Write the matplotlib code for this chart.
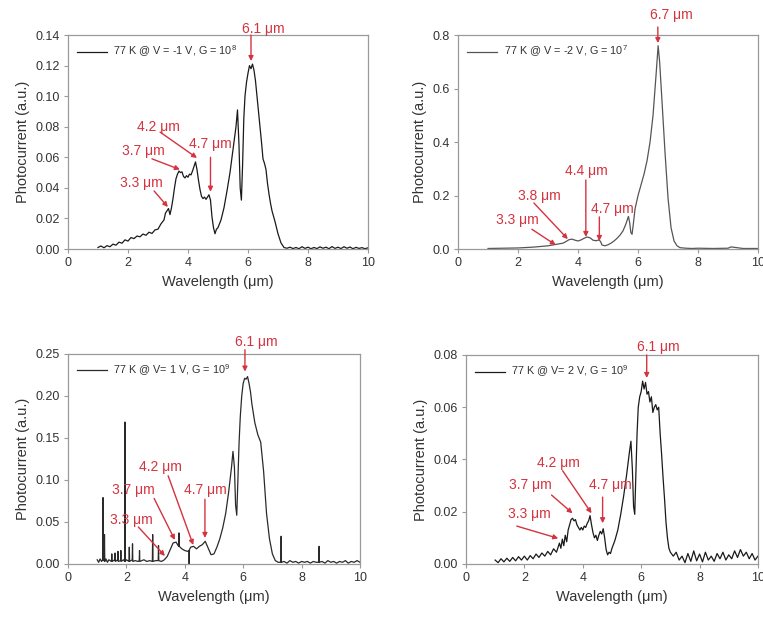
import numpy as np
import matplotlib
matplotlib.use('Agg')
import matplotlib.pyplot as plt

plt.rcParams['font.family'] = ['Liberation Sans', 'DejaVu Sans']
plt.rcParams['mathtext.fontset'] = 'custom'
plt.rcParams['mathtext.rm'] = 'Liberation Sans'
plt.rcParams['mathtext.it'] = 'Liberation Sans'

RED = '#d4333f'
TEXT = '#333333'
SPINE = '#9a9a9a'

# ---- panel (a): 77 K @ V = -1 V, G = 10^8 ----
wl_a = [1.0, 1.1, 1.2, 1.3, 1.4, 1.5, 1.6, 1.7, 1.8, 1.9, 2.0, 2.1, 2.2, 2.3, 2.4, 2.5,
        2.6, 2.7, 2.8, 2.9, 3.0, 3.1, 3.2, 3.25, 3.3, 3.35, 3.4, 3.45, 3.5, 3.55, 3.6,
        3.65, 3.7, 3.75, 3.8, 3.85, 3.9, 3.95, 4.0, 4.05, 4.1, 4.15, 4.2, 4.25, 4.3,
        4.35, 4.4, 4.45, 4.5, 4.55, 4.6, 4.65, 4.7, 4.75, 4.8, 4.85, 4.9, 4.95, 5.0,
        5.1, 5.2, 5.3, 5.4, 5.5, 5.6, 5.65, 5.7, 5.74, 5.78, 5.82, 5.86, 5.9, 5.95,
        6.0, 6.05, 6.1, 6.15, 6.2, 6.25, 6.3, 6.35, 6.4, 6.45, 6.5, 6.55, 6.6, 6.65,
        6.7, 6.75, 6.8, 6.9, 7.0, 7.1, 7.2, 7.3, 7.4, 7.5, 7.6, 7.7, 7.8, 7.9, 8.0,
        8.1, 8.2, 8.3, 8.4, 8.5, 8.6, 8.7, 8.8, 8.9, 9.0, 9.1, 9.2, 9.3, 9.4, 9.5,
        9.6, 9.7, 9.8, 9.9, 10.0]
pc_a = [0.0010, 0.0020, 0.0008, 0.0022, 0.0015, 0.0032, 0.0025, 0.0045, 0.0038, 0.0060,
        0.0052, 0.0075, 0.0068, 0.0085, 0.0080, 0.0098, 0.0090, 0.0110, 0.0102, 0.0125,
        0.0130, 0.0165, 0.0190, 0.0235, 0.0250, 0.0265, 0.0225, 0.0270, 0.0330, 0.0400,
        0.0460, 0.0490, 0.0510, 0.0500, 0.0505, 0.0475, 0.0465, 0.0480, 0.0470, 0.0490,
        0.0485, 0.0510, 0.0540, 0.0570, 0.0520, 0.0450, 0.0390, 0.0345, 0.0330, 0.0340,
        0.0325, 0.0340, 0.0355, 0.0320, 0.0210, 0.0140, 0.0100, 0.0130, 0.0140, 0.0190,
        0.0270, 0.0380, 0.0500, 0.0650, 0.0800, 0.0910, 0.0680, 0.0400, 0.0320, 0.0550,
        0.0850, 0.1000, 0.1090, 0.1150, 0.1200, 0.1180, 0.1210, 0.1170, 0.1100, 0.1000,
        0.0900, 0.0800, 0.0700, 0.0590, 0.0560, 0.0520, 0.0430, 0.0360, 0.0300, 0.0250,
        0.0180, 0.0100, 0.0040, 0.0010, 0.0005, 0.0012, 0.0003, 0.0010, 0.0002, 0.0015,
        0.0004, 0.0012, 0.0002, 0.0010, 0.0003, 0.0014, 0.0005, 0.0012, 0.0002, 0.0016,
        0.0004, 0.0012, 0.0003, 0.0015, 0.0005, 0.0013, 0.0002, 0.0011, 0.0004, 0.0009,
        0.0002, 0.0008]

# ---- panel (b): 77 K @ V = -2 V, G = 10^7 ----
wl_b = [1.0, 1.5, 2.0, 2.5, 3.0, 3.2, 3.4, 3.5, 3.6, 3.7, 3.8, 3.9, 4.0, 4.1, 4.2, 4.3,
        4.4, 4.5, 4.6, 4.7, 4.75, 4.8, 4.9, 5.0, 5.1, 5.2, 5.3, 5.4, 5.5, 5.6, 5.68,
        5.72, 5.76, 5.8, 5.84, 5.9, 6.0, 6.1, 6.2, 6.3, 6.4, 6.5, 6.6, 6.67, 6.72, 6.8,
        6.9, 7.0, 7.1, 7.2, 7.3, 7.4, 7.6, 7.8, 8.0, 8.5, 9.0, 9.1, 9.5, 10.0]
pc_b = [0.002, 0.003, 0.004, 0.007, 0.012, 0.016, 0.020, 0.022, 0.028, 0.035, 0.037,
        0.033, 0.030, 0.034, 0.040, 0.045, 0.042, 0.033, 0.031, 0.034, 0.028, 0.015,
        0.012, 0.016, 0.022, 0.030, 0.040, 0.052, 0.068, 0.095, 0.122, 0.100, 0.062,
        0.055, 0.090, 0.150, 0.200, 0.240, 0.280, 0.330, 0.400, 0.500, 0.650, 0.760,
        0.700, 0.550, 0.360, 0.190, 0.080, 0.030, 0.012, 0.005, 0.003, 0.002, 0.003,
        0.002, 0.003, 0.008, 0.002, 0.002]

# ---- panel (c): 77 K @ V = 1 V, G = 10^9 ----
wl_c = [1.0, 1.05, 1.1, 1.15, 1.19, 1.2, 1.21, 1.24, 1.25, 1.26, 1.3, 1.35, 1.4, 1.49,
        1.5, 1.51, 1.6, 1.61, 1.62, 1.7, 1.71, 1.72, 1.8, 1.81, 1.82, 1.9, 1.94, 1.95,
        1.96, 2.0, 2.09, 2.1, 2.11, 2.2, 2.21, 2.22, 2.3, 2.4, 2.44, 2.45, 2.46, 2.6,
        2.7, 2.8, 2.89, 2.9, 2.91, 3.0, 3.09, 3.1, 3.11, 3.2, 3.3, 3.4, 3.5, 3.6, 3.7,
        3.79, 3.8, 3.81, 3.9, 4.0, 4.1, 4.14, 4.15, 4.16, 4.2, 4.3, 4.4, 4.5, 4.6, 4.7,
        4.8, 4.9, 5.0, 5.1, 5.2, 5.3, 5.4, 5.5, 5.6, 5.65, 5.7, 5.74, 5.78, 5.82, 5.86,
        5.9, 5.95, 6.0, 6.05, 6.1, 6.15, 6.2, 6.25, 6.3, 6.4, 6.5, 6.6, 6.7, 6.8, 6.9,
        7.0, 7.1, 7.2, 7.29, 7.3, 7.31, 7.4, 7.5, 7.6, 7.7, 7.8, 7.9, 8.0, 8.1, 8.2,
        8.3, 8.4, 8.5, 8.59, 8.6, 8.61, 8.7, 8.8, 8.9, 9.0, 9.1, 9.2, 9.3, 9.4, 9.5,
        9.6, 9.7, 9.8, 9.9, 10.0]
pc_c = [0.005, 0.002, 0.006, 0.003, 0.005, 0.079, 0.004, 0.006, 0.035, 0.003, 0.006,
        0.002, 0.005, 0.003, 0.012, 0.003, 0.005, 0.013, 0.003, 0.005, 0.015, 0.003,
        0.004, 0.016, 0.003, 0.005, 0.003, 0.169, 0.003, 0.005, 0.003, 0.020, 0.003,
        0.005, 0.024, 0.003, 0.004, 0.003, 0.004, 0.016, 0.003, 0.005, 0.003, 0.004,
        0.003, 0.035, 0.003, 0.004, 0.004, 0.022, 0.004, 0.003, 0.005, 0.009, 0.017,
        0.025, 0.026, 0.021, 0.037, 0.021, 0.018, 0.016, 0.015, 0.016, 0.000, 0.017,
        0.020, 0.021, 0.018, 0.021, 0.023, 0.027, 0.019, 0.011, 0.012, 0.020, 0.030,
        0.043, 0.060, 0.085, 0.115, 0.134, 0.115, 0.070, 0.058, 0.100, 0.145, 0.175,
        0.200, 0.215, 0.221, 0.220, 0.223, 0.215, 0.205, 0.190, 0.168, 0.154, 0.145,
        0.110, 0.060, 0.030, 0.012, 0.004, 0.002, 0.002, 0.033, 0.002, 0.003, 0.001,
        0.004, 0.002, 0.003, 0.001, 0.003, 0.002, 0.003, 0.001, 0.003, 0.002, 0.002,
        0.021, 0.002, 0.003, 0.001, 0.004, 0.002, 0.003, 0.001, 0.003, 0.002, 0.004,
        0.001, 0.003, 0.002, 0.004, 0.002]

# ---- panel (d): 77 K @ V = 2 V, G = 10^9 ----
wl_d = [1.0, 1.1, 1.2, 1.3, 1.4, 1.5, 1.6, 1.7, 1.8, 1.9, 2.0, 2.1, 2.2, 2.3, 2.4, 2.5,
        2.6, 2.7, 2.8, 2.9, 3.0, 3.1, 3.2, 3.25, 3.3, 3.35, 3.4, 3.45, 3.5, 3.55, 3.6,
        3.65, 3.7, 3.75, 3.8, 3.85, 3.9, 3.95, 4.0, 4.05, 4.1, 4.15, 4.2, 4.25, 4.3,
        4.35, 4.4, 4.45, 4.5, 4.55, 4.6, 4.65, 4.7, 4.75, 4.8, 4.85, 4.9, 4.95, 5.0,
        5.1, 5.2, 5.3, 5.4, 5.5, 5.6, 5.65, 5.7, 5.74, 5.78, 5.82, 5.86, 5.9, 5.95,
        6.0, 6.05, 6.1, 6.15, 6.2, 6.25, 6.3, 6.35, 6.4, 6.45, 6.5, 6.55, 6.6, 6.65,
        6.7, 6.75, 6.8, 6.85, 6.9, 6.95, 7.0, 7.1, 7.2, 7.3, 7.4, 7.5, 7.6, 7.7, 7.8,
        7.9, 8.0, 8.1, 8.2, 8.3, 8.4, 8.5, 8.6, 8.7, 8.8, 8.9, 9.0, 9.1, 9.2, 9.3,
        9.4, 9.5, 9.6, 9.7, 9.8, 9.9, 10.0]
pc_d = [0.0015, 0.0005, 0.0020, 0.0008, 0.0022, 0.0010, 0.0025, 0.0012, 0.0028, 0.0015,
        0.0030, 0.0015, 0.0032, 0.0020, 0.0038, 0.0025, 0.0042, 0.0030, 0.0048, 0.0035,
        0.0058, 0.0045, 0.0080, 0.0060, 0.0095, 0.0070, 0.0110, 0.0085, 0.0130, 0.0150,
        0.0170, 0.0175, 0.0165, 0.0170, 0.0150, 0.0140, 0.0130, 0.0140, 0.0130, 0.0145,
        0.0140, 0.0155, 0.0165, 0.0185, 0.0150, 0.0120, 0.0100, 0.0110, 0.0090, 0.0110,
        0.0125, 0.0115, 0.0135, 0.0100, 0.0055, 0.0035, 0.0045, 0.0040, 0.0060, 0.0090,
        0.0130, 0.0190, 0.0260, 0.0340, 0.0430, 0.0470, 0.0360, 0.0220, 0.0190, 0.0350,
        0.0500, 0.0600, 0.0640, 0.0660, 0.0700, 0.0670, 0.0695, 0.0650, 0.0660, 0.0620,
        0.0640, 0.0580, 0.0600, 0.0610, 0.0590, 0.0600, 0.0500, 0.0420, 0.0330, 0.0250,
        0.0160, 0.0100, 0.0060, 0.0045, 0.0030, 0.0045, 0.0015, 0.0030, 0.0005, 0.0040,
        0.0010, 0.0050, 0.0012, 0.0038, 0.0008, 0.0045, 0.0015, 0.0030, 0.0010, 0.0040,
        0.0020, 0.0045, 0.0015, 0.0035, 0.0020, 0.0050, 0.0025, 0.0055, 0.0030, 0.0045,
        0.0020, 0.0040, 0.0015, 0.0030]

labels = [r'77 K @ V = -1 V, G = 10$^{8}$', r'77 K @ V = -2 V, G = 10$^{7}$',
          r'77 K @ V= 1 V, G = 10$^{9}$', r'77 K @ V= 2 V, G = 10$^{9}$']
ymax = [0.14, 0.8, 0.25, 0.08]
ystep = [0.02, 0.2, 0.05, 0.02]
yfmt = ['{:.2f}', '{:.1f}', '{:.2f}', '{:.2f}']
colors = ['#1a1a1a', '#555555', '#2a2a2a', '#1a1a1a']

# peak annotations: (text, text x, text y, tail x, tail y, head x, head y)
notes = [
    [('6.1 \u03bcm', 6.5, 0.144, 6.1, 0.140, 6.1, 0.123),
     ('4.2 \u03bcm', 3.0, 0.080, 3.07, 0.0765, 4.3, 0.0596),
     ('3.7 \u03bcm', 2.5, 0.064, 2.8, 0.059, 3.73, 0.052),
     ('3.3 \u03bcm', 2.43, 0.043, 2.87, 0.038, 3.33, 0.0275),
     ('4.7 \u03bcm', 4.73, 0.069, 4.75, 0.060, 4.75, 0.0375)],
    [('6.7 \u03bcm', 7.1, 0.875, 6.66, 0.83, 6.66, 0.77),
     ('4.4 \u03bcm', 4.28, 0.29, 4.26, 0.258, 4.26, 0.045),
     ('3.8 \u03bcm', 2.71, 0.20, 2.53, 0.172, 3.66, 0.037),
     ('3.3 \u03bcm', 1.99, 0.108, 2.46, 0.074, 3.26, 0.015),
     ('4.7 \u03bcm', 5.15, 0.15, 4.71, 0.12, 4.71, 0.03)],
    [('6.1 \u03bcm', 6.46, 0.264, 6.06, 0.255, 6.06, 0.229),
     ('4.2 \u03bcm', 3.17, 0.116, 3.43, 0.105, 4.29, 0.0226),
     ('3.7 \u03bcm', 2.23, 0.088, 2.95, 0.078, 3.66, 0.0286),
     ('3.3 \u03bcm', 2.18, 0.052, 2.41, 0.044, 3.32, 0.0095),
     ('4.7 \u03bcm', 4.7, 0.088, 4.69, 0.077, 4.69, 0.031)],
    [('6.1 \u03bcm', 6.58, 0.0831, 6.19, 0.080, 6.19, 0.0712),
     ('4.2 \u03bcm', 3.18, 0.0388, 3.31, 0.0357, 4.3, 0.0194),
     ('3.7 \u03bcm', 2.22, 0.0302, 2.93, 0.0264, 3.65, 0.0194),
     ('3.3 \u03bcm', 2.18, 0.0191, 1.74, 0.0145, 3.16, 0.0098),
     ('4.7 \u03bcm', 4.93, 0.0302, 4.68, 0.0256, 4.68, 0.0156)],
]

series = [(wl_a, pc_a), (wl_b, pc_b), (wl_c, pc_c), (wl_d, pc_d)]
rects = [[0.0891, 0.5977, 0.3932, 0.3457],
         [0.6003, 0.5977, 0.3932, 0.3457],
         [0.0891, 0.0889, 0.3827, 0.3393],
         [0.6107, 0.0889, 0.3827, 0.3376]]

fig = plt.figure(figsize=(7.63, 6.19), dpi=100)

for i in range(4):
    ax = fig.add_axes(rects[i])
    wl, pc = series[i]
    ax.plot(wl, pc, color=colors[i], lw=0.9, label=labels[i])
    ax.set_xlim(0, 10)
    ax.set_ylim(0, ymax[i])
    ax.set_xticks(np.arange(0, 11, 2))
    yt = np.arange(0, ymax[i] + ystep[i] / 2, ystep[i])
    ax.set_yticks(yt)
    ax.set_yticklabels([yfmt[i].format(v) for v in yt])
    ax.tick_params(direction='out', length=3, width=0.8, color=SPINE,
                   labelsize=9, labelcolor=TEXT, pad=3)
    for sp in ax.spines.values():
        sp.set_color(SPINE)
        sp.set_linewidth(0.9)
    ax.set_xlabel('Wavelength (\u03bcm)', fontsize=10.5, color=TEXT, labelpad=4)
    ax.set_ylabel('Photocurrent (a.u.)', fontsize=10.5, color=TEXT, labelpad=4)
    leg = ax.legend(loc='upper left', frameon=False, fontsize=7.8, handlelength=2.8,
                    handletextpad=0.6, borderaxespad=0.4)
    for t in leg.get_texts():
        t.set_color(TEXT)

    for txt, tx, ty, ax0, ay0, hx, hy in notes[i]:
        ax.text(tx, ty, txt, color=RED, fontsize=10, ha='center', va='center')
        ax.annotate('', xy=(hx, hy), xytext=(ax0, ay0),
                    arrowprops=dict(arrowstyle='-|>', color=RED, lw=1.0,
                                    mutation_scale=7, shrinkA=0, shrinkB=0),
                    annotation_clip=False)

fig.savefig('out.png', dpi=100, facecolor='white')
